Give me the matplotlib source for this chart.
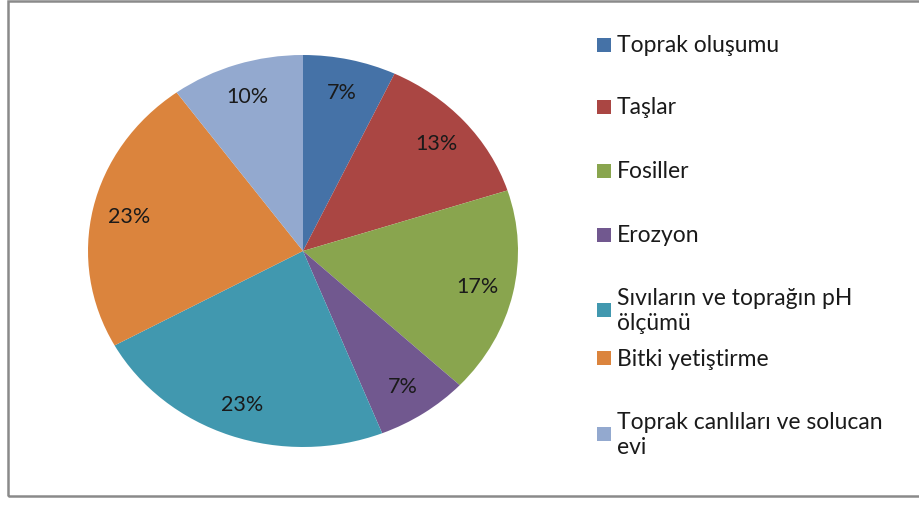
import matplotlib.pyplot as plt
import matplotlib.patches as patches

plt.rcParams['font.family'] = ['Lato', 'DejaVu Sans']

labels = ['Toprak oluşumu', 'Taşlar', 'Fosiller', 'Erozyon',
          'Sıvıların ve toprağın pH\nölçümü', 'Bitki yetiştirme',
          'Toprak canlıları ve solucan\nevi']
values = [7, 13, 17, 7, 23, 23, 10]
colors = ['#4572A7', '#AA4643', '#89A54E', '#71588F',
          '#4198AF', '#DB843D', '#93A9CF']

fig = plt.figure(figsize=(9.19, 5.06), dpi=100)
W, H = 919, 506

# outer frame
frame = patches.Rectangle((8 / W, 1 - 497 / H), 1.2, 495 / H,
                          transform=fig.transFigure, fill=False,
                          edgecolor='#8a8a8a', linewidth=1.8)
fig.patches.append(frame)

# pie is slightly wider than tall, like the original
ax = fig.add_axes([88 / W, (H - 448) / H, 430 / W, 392 / H])
wedges, texts, autotexts = ax.pie(values, colors=colors, startangle=90,
                                  counterclock=False, autopct='%1.0f%%',
                                  pctdistance=0.83,
                                  wedgeprops=dict(linewidth=0),
                                  textprops=dict(fontsize=15.5, color='#1a1a1a'))
ax.set_aspect('auto')
ax.set_xlim(-1, 1)
ax.set_ylim(-1, 1)
ax.axis('off')

# legend drawn by hand to keep Excel's spacing
leg_y = [46, 108, 172, 236, 311, 359, 435]
for lab, col, y in zip(labels, colors, leg_y):
    fig.patches.append(patches.Rectangle((597 / W, 1 - (y + 7) / H), 14 / W, 14 / H,
                                         transform=fig.transFigure,
                                         facecolor=col, edgecolor='none'))
    fig.text(617 / W, 1 - y / H, lab, fontsize=16.5, va='center', ha='left',
             color='#1a1a1a', linespacing=1.2)

fig.savefig('out.png', dpi=100)
